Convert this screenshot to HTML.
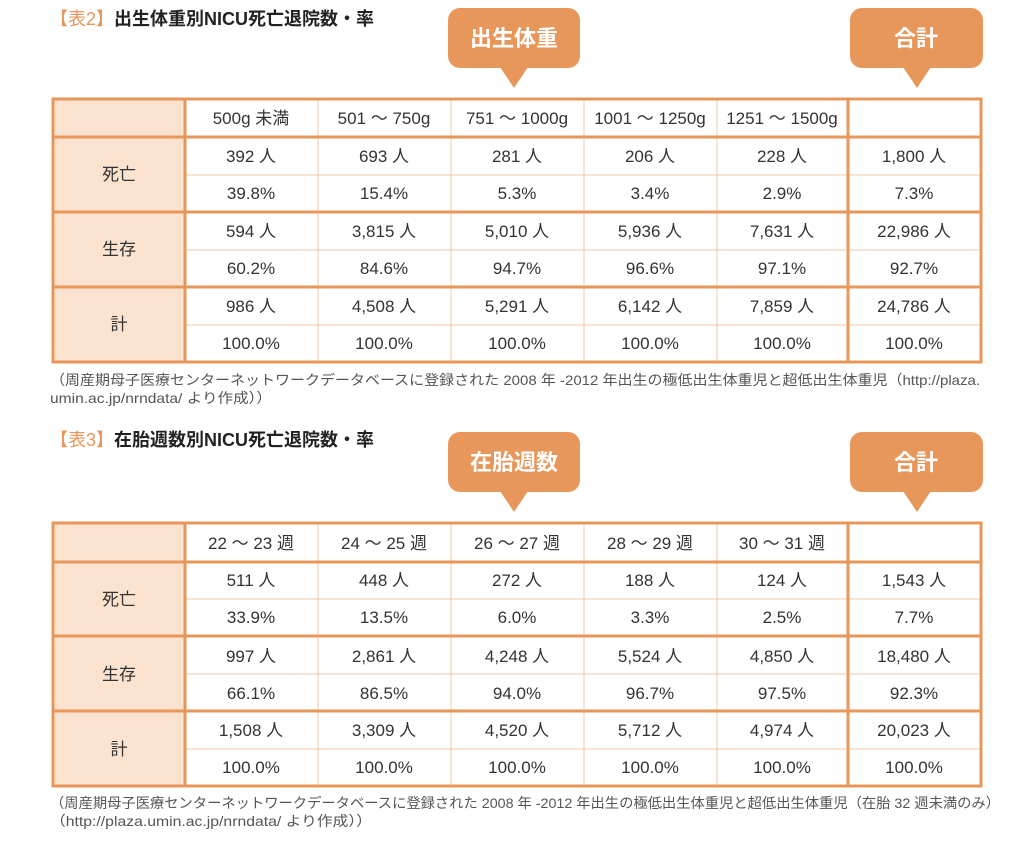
<!DOCTYPE html>
<html><head><meta charset="utf-8"><style>
html,body{margin:0;padding:0;background:#fff;}
svg{display:block;}
text{font-family:"Liberation Sans","Noto Sans CJK JP",sans-serif;}
.c{font-size:17px;fill:#333;text-anchor:middle;}
.t{font-size:18px;font-weight:bold;fill:#222;}
.f{font-size:14px;fill:#555;}
.b{font-size:22px;font-weight:bold;fill:#fff;text-anchor:middle;}
</style></head><body>
<svg width="1024" height="843" viewBox="0 0 1024 843" xmlns="http://www.w3.org/2000/svg">
<rect width="1024" height="843" fill="#fff"/>
<text class="t" x="50" y="25"><tspan fill="#e8975a" font-weight="normal">【表2】</tspan>出生体重別NICU死亡退院数・率</text>
<text class="t" x="50" y="446"><tspan fill="#e8975a" font-weight="normal">【表3】</tspan>在胎週数別NICU死亡退院数・率</text>
<g fill="#e8975a">
<rect x="448" y="8" width="132" height="60" rx="12"/><polygon points="500,67 528,67 514,88"/>
<rect x="850" y="8" width="133" height="60" rx="12"/><polygon points="903,67 931,67 917,88"/>
<rect x="448" y="432" width="132" height="60" rx="12"/><polygon points="500,491 528,491 514,512"/>
<rect x="850" y="432" width="133" height="60" rx="12"/><polygon points="903,491 931,491 917,512"/>
</g>
<text class="b" x="514" y="46">出生体重</text>
<text class="b" x="916" y="46">合計</text>
<text class="b" x="514" y="470">在胎週数</text>
<text class="b" x="916" y="470">合計</text>

<g>
<rect x="53" y="99" width="132" height="263" fill="#fce3d0"/>
<g stroke="#f0c8a8" stroke-width="1">
<line x1="185" y1="175" x2="981" y2="175"/><line x1="185" y1="250" x2="981" y2="250"/><line x1="185" y1="325" x2="981" y2="325"/>
<line x1="318" y1="99" x2="318" y2="362"/><line x1="451" y1="99" x2="451" y2="362"/><line x1="584" y1="99" x2="584" y2="362"/><line x1="717" y1="99" x2="717" y2="362"/>
</g>
<g stroke="#e8975a" stroke-width="3" fill="none">
<rect x="53" y="99" width="928" height="263"/>
<line x1="53" y1="137" x2="981" y2="137"/><line x1="53" y1="212" x2="981" y2="212"/><line x1="53" y1="287" x2="981" y2="287"/>
<line x1="185" y1="99" x2="185" y2="362"/><line x1="848" y1="99" x2="848" y2="362"/>
</g>
<text x="251" y="124" class="c">500g 未満</text><text x="384" y="124" class="c">501 ～ 750g</text><text x="517" y="124" class="c">751 ～ 1000g</text><text x="650" y="124" class="c">1001 ～ 1250g</text><text x="782" y="124" class="c">1251 ～ 1500g</text>
<text x="119" y="180" class="c">死亡</text><text x="119" y="255" class="c">生存</text><text x="119" y="330" class="c">計</text>
<text x="251" y="162" class="c">392 人</text><text x="384" y="162" class="c">693 人</text><text x="517" y="162" class="c">281 人</text><text x="650" y="162" class="c">206 人</text><text x="782" y="162" class="c">228 人</text><text x="914" y="162" class="c">1,800 人</text>
<text x="251" y="199" class="c">39.8%</text><text x="384" y="199" class="c">15.4%</text><text x="517" y="199" class="c">5.3%</text><text x="650" y="199" class="c">3.4%</text><text x="782" y="199" class="c">2.9%</text><text x="914" y="199" class="c">7.3%</text>
<text x="251" y="237" class="c">594 人</text><text x="384" y="237" class="c">3,815 人</text><text x="517" y="237" class="c">5,010 人</text><text x="650" y="237" class="c">5,936 人</text><text x="782" y="237" class="c">7,631 人</text><text x="914" y="237" class="c">22,986 人</text>
<text x="251" y="274" class="c">60.2%</text><text x="384" y="274" class="c">84.6%</text><text x="517" y="274" class="c">94.7%</text><text x="650" y="274" class="c">96.6%</text><text x="782" y="274" class="c">97.1%</text><text x="914" y="274" class="c">92.7%</text>
<text x="251" y="312" class="c">986 人</text><text x="384" y="312" class="c">4,508 人</text><text x="517" y="312" class="c">5,291 人</text><text x="650" y="312" class="c">6,142 人</text><text x="782" y="312" class="c">7,859 人</text><text x="914" y="312" class="c">24,786 人</text>
<text x="251" y="349" class="c">100.0%</text><text x="384" y="349" class="c">100.0%</text><text x="517" y="349" class="c">100.0%</text><text x="650" y="349" class="c">100.0%</text><text x="782" y="349" class="c">100.0%</text><text x="914" y="349" class="c">100.0%</text>
</g>
<text class="f" x="50" y="385" textLength="930" lengthAdjust="spacingAndGlyphs">（周産期母子医療センターネットワークデータベースに登録された 2008 年 -2012 年出生の極低出生体重児と超低出生体重児（http://plaza.</text>
<text class="f" x="50" y="403" textLength="222" lengthAdjust="spacingAndGlyphs">umin.ac.jp/nrndata/ より作成））</text>

<g>
<rect x="53" y="523" width="132" height="263" fill="#fce3d0"/>
<g stroke="#f0c8a8" stroke-width="1">
<line x1="185" y1="599" x2="981" y2="599"/><line x1="185" y1="674" x2="981" y2="674"/><line x1="185" y1="749" x2="981" y2="749"/>
<line x1="318" y1="523" x2="318" y2="786"/><line x1="451" y1="523" x2="451" y2="786"/><line x1="584" y1="523" x2="584" y2="786"/><line x1="717" y1="523" x2="717" y2="786"/>
</g>
<g stroke="#e8975a" stroke-width="3" fill="none">
<rect x="53" y="523" width="928" height="263"/>
<line x1="53" y1="562" x2="981" y2="562"/><line x1="53" y1="636" x2="981" y2="636"/><line x1="53" y1="711" x2="981" y2="711"/>
<line x1="185" y1="523" x2="185" y2="786"/><line x1="848" y1="523" x2="848" y2="786"/>
</g>
<text x="251" y="549" class="c">22 ～ 23 週</text><text x="384" y="549" class="c">24 ～ 25 週</text><text x="517" y="549" class="c">26 ～ 27 週</text><text x="650" y="549" class="c">28 ～ 29 週</text><text x="782" y="549" class="c">30 ～ 31 週</text>
<text x="119" y="605" class="c">死亡</text><text x="119" y="680" class="c">生存</text><text x="119" y="755" class="c">計</text>
<text x="251" y="586" class="c">511 人</text><text x="384" y="586" class="c">448 人</text><text x="517" y="586" class="c">272 人</text><text x="650" y="586" class="c">188 人</text><text x="782" y="586" class="c">124 人</text><text x="914" y="586" class="c">1,543 人</text>
<text x="251" y="623" class="c">33.9%</text><text x="384" y="623" class="c">13.5%</text><text x="517" y="623" class="c">6.0%</text><text x="650" y="623" class="c">3.3%</text><text x="782" y="623" class="c">2.5%</text><text x="914" y="623" class="c">7.7%</text>
<text x="251" y="662" class="c">997 人</text><text x="384" y="662" class="c">2,861 人</text><text x="517" y="662" class="c">4,248 人</text><text x="650" y="662" class="c">5,524 人</text><text x="782" y="662" class="c">4,850 人</text><text x="914" y="662" class="c">18,480 人</text>
<text x="251" y="699" class="c">66.1%</text><text x="384" y="699" class="c">86.5%</text><text x="517" y="699" class="c">94.0%</text><text x="650" y="699" class="c">96.7%</text><text x="782" y="699" class="c">97.5%</text><text x="914" y="699" class="c">92.3%</text>
<text x="251" y="736" class="c">1,508 人</text><text x="384" y="736" class="c">3,309 人</text><text x="517" y="736" class="c">4,520 人</text><text x="650" y="736" class="c">5,712 人</text><text x="782" y="736" class="c">4,974 人</text><text x="914" y="736" class="c">20,023 人</text>
<text x="251" y="773" class="c">100.0%</text><text x="384" y="773" class="c">100.0%</text><text x="517" y="773" class="c">100.0%</text><text x="650" y="773" class="c">100.0%</text><text x="782" y="773" class="c">100.0%</text><text x="914" y="773" class="c">100.0%</text>
</g>
<text class="f" x="50" y="808" textLength="950" lengthAdjust="spacingAndGlyphs">（周産期母子医療センターネットワークデータベースに登録された 2008 年 -2012 年出生の極低出生体重児と超低出生体重児（在胎 32 週未満のみ）</text>
<text class="f" x="50" y="826" textLength="322" lengthAdjust="spacingAndGlyphs">（http://plaza.umin.ac.jp/nrndata/ より作成））</text>
</svg>
</body></html>
